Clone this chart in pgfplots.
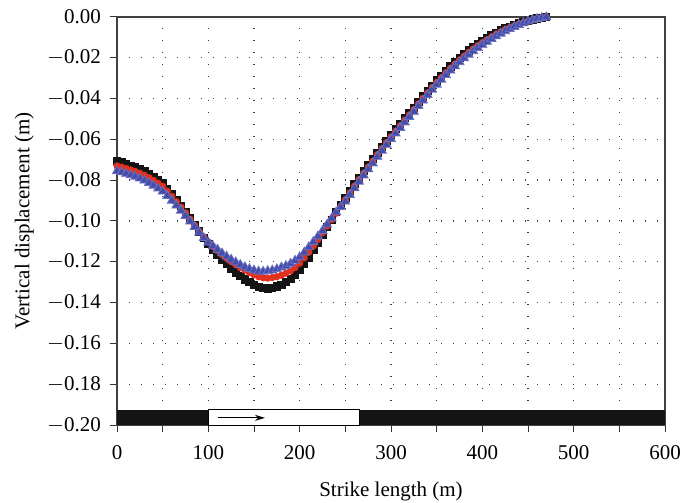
\documentclass[border=0pt]{standalone}
\usepackage{fontspec}
\setmainfont{Liberation Serif}
\usepackage{pgfplots}
\usepackage{pgfplotstable}
\pgfplotsset{compat=1.18}
\usetikzlibrary{arrows.meta}
\definecolor{cblack}{RGB}{20,20,20}
\definecolor{cred}{RGB}{226,48,30}
\definecolor{cblue}{RGB}{68,76,172}
\newcommand{\mn}{\makebox[8.5pt][l]{$-$}}
\pgfplotstableread{
x black red blue
0 -0.0705 -0.0730 -0.0755
5 -0.0712 -0.0736 -0.0761
10 -0.0720 -0.0743 -0.0768
15 -0.0728 -0.0750 -0.0775
20 -0.0736 -0.0757 -0.0782
25 -0.0746 -0.0766 -0.0791
30 -0.0757 -0.0776 -0.0801
35 -0.0770 -0.0788 -0.0813
40 -0.0784 -0.0801 -0.0826
45 -0.0799 -0.0815 -0.0840
50 -0.0815 -0.0830 -0.0855
55 -0.0841 -0.0854 -0.0877
60 -0.0868 -0.0879 -0.0900
65 -0.0896 -0.0905 -0.0924
70 -0.0925 -0.0932 -0.0949
75 -0.0955 -0.0960 -0.0975
80 -0.0987 -0.0991 -0.1002
85 -0.1019 -0.1021 -0.1029
90 -0.1051 -0.1051 -0.1056
95 -0.1083 -0.1078 -0.1083
100 -0.1113 -0.1103 -0.1105
105 -0.1140 -0.1125 -0.1123
110 -0.1165 -0.1145 -0.1140
115 -0.1189 -0.1164 -0.1158
120 -0.1212 -0.1182 -0.1174
125 -0.1233 -0.1199 -0.1189
130 -0.1252 -0.1214 -0.1202
135 -0.1270 -0.1229 -0.1215
140 -0.1286 -0.1241 -0.1226
145 -0.1300 -0.1253 -0.1235
150 -0.1312 -0.1264 -0.1242
155 -0.1322 -0.1273 -0.1247
160 -0.1328 -0.1278 -0.1248
165 -0.1330 -0.1280 -0.1245
170 -0.1327 -0.1277 -0.1242
175 -0.1321 -0.1273 -0.1236
180 -0.1312 -0.1266 -0.1227
185 -0.1300 -0.1256 -0.1220
190 -0.1284 -0.1244 -0.1209
195 -0.1264 -0.1228 -0.1194
200 -0.1240 -0.1207 -0.1177
205 -0.1211 -0.1181 -0.1154
210 -0.1178 -0.1153 -0.1128
215 -0.1142 -0.1122 -0.1102
220 -0.1105 -0.1090 -0.1075
225 -0.1068 -0.1058 -0.1048
230 -0.1030 -0.1025 -0.1017
235 -0.0993 -0.0993 -0.0987
240 -0.0957 -0.0962 -0.0957
245 -0.0921 -0.0929 -0.0931
250 -0.0886 -0.0896 -0.0904
255 -0.0852 -0.0862 -0.0872
260 -0.0819 -0.0829 -0.0839
265 -0.0787 -0.0797 -0.0807
270 -0.0756 -0.0766 -0.0776
275 -0.0726 -0.0736 -0.0746
280 -0.0697 -0.0707 -0.0717
285 -0.0665 -0.0675 -0.0685
290 -0.0635 -0.0645 -0.0655
295 -0.0606 -0.0616 -0.0626
300 -0.0578 -0.0588 -0.0598
305 -0.0550 -0.0560 -0.0570
310 -0.0523 -0.0533 -0.0543
315 -0.0496 -0.0506 -0.0516
320 -0.0470 -0.0480 -0.0490
325 -0.0444 -0.0454 -0.0464
330 -0.0416 -0.0426 -0.0436
335 -0.0389 -0.0399 -0.0409
340 -0.0362 -0.0372 -0.0382
345 -0.0336 -0.0346 -0.0356
350 -0.0311 -0.0321 -0.0331
355 -0.0287 -0.0297 -0.0307
360 -0.0264 -0.0274 -0.0284
365 -0.0242 -0.0252 -0.0262
370 -0.0221 -0.0231 -0.0241
375 -0.0201 -0.0211 -0.0221
380 -0.0182 -0.0192 -0.0202
385 -0.0164 -0.0174 -0.0184
390 -0.0147 -0.0157 -0.0167
395 -0.0131 -0.0141 -0.0151
400 -0.0116 -0.0126 -0.0136
405 -0.0102 -0.0112 -0.0121
410 -0.0089 -0.0098 -0.0107
415 -0.0077 -0.0085 -0.0094
420 -0.0066 -0.0073 -0.0081
425 -0.0056 -0.0062 -0.0069
430 -0.0047 -0.0052 -0.0058
435 -0.0039 -0.0043 -0.0048
440 -0.0031 -0.0035 -0.0039
445 -0.0024 -0.0027 -0.0030
450 -0.0018 -0.0020 -0.0022
455 -0.0012 -0.0014 -0.0015
460 -0.0007 -0.0008 -0.0009
465 -0.0003 -0.0004 -0.0004
470 0.0000 -0.0001 -0.0001
}\datatable
\begin{document}
\begin{tikzpicture}
\useasboundingbox (-58.5pt,-38.5pt) rectangle (283pt,212.5pt);
\begin{axis}[
  at={(0,0)}, anchor=south west,
  scale only axis, width=274pt, height=204pt,
  xmin=0, xmax=600, ymin=-0.2, ymax=0,
  xtick={0,100,...,600},
  minor xtick={50,150,...,550},
  ytick={-0.2,-0.18,-0.16,-0.14,-0.12,-0.1,-0.08,-0.06,-0.04,-0.02,0},
  yticklabels={\mn0.20,\mn0.18,\mn0.16,\mn0.14,\mn0.12,\mn0.10,\mn0.08,\mn0.06,\mn0.04,\mn0.02,0.00},
  /pgf/number format/assume math mode=true,
  tick align=outside, xtick pos=bottom, ytick pos=left,
  major tick length=3.5pt, minor tick length=3.5pt,
  tick style={black!80, line width=0.5pt},
  xmajorgrids, xminorgrids, ymajorgrids,
  grid style={black!75, line width=0.7pt, dash pattern=on 0.7pt off 5.3pt},
  axis line style={black!75, line width=0.7pt},
  tick label style={font=\fontsize{10.5}{12}\selectfont},
  label style={font=\fontsize{10.5}{12}\selectfont},
  xlabel={Strike length (m)},
  ylabel={Vertical displacement (m)},
  xlabel style={at={(axis description cs:0.5,0)}, anchor=north, yshift=-25pt},
  ylabel style={at={(axis description cs:0,0.5)}, anchor=south, yshift=38pt},
  xticklabel style={yshift=-3pt},
  yticklabel style={xshift=-1pt},
  clip=true,
]
\addplot[only marks, mark=square*, mark size=1.8pt, color=cblack] table[x=x, y=black] {\datatable};
\addplot[only marks, mark=*, mark size=1.6pt, color=cred] table[x=x, y=red] {\datatable};
\addplot[only marks, mark=triangle*, mark size=2.6pt, color=cblue, mark options={draw=cblue!80}] table[x=x, y=blue] {\datatable};
\addplot[fill=cblack, draw=none] coordinates {(0,-0.2) (600,-0.2) (600,-0.1925) (0,-0.1925)};
\addplot[fill=white, draw=black, line width=0.4pt] coordinates {(100,-0.2) (265,-0.2) (265,-0.1925) (100,-0.1925) (100,-0.2)};
\addplot[black, line width=0.5pt, -{Stealth[length=5pt,width=3pt]}] coordinates {(111,-0.1965) (162,-0.1965)};
\end{axis}
\end{tikzpicture}
\end{document}
